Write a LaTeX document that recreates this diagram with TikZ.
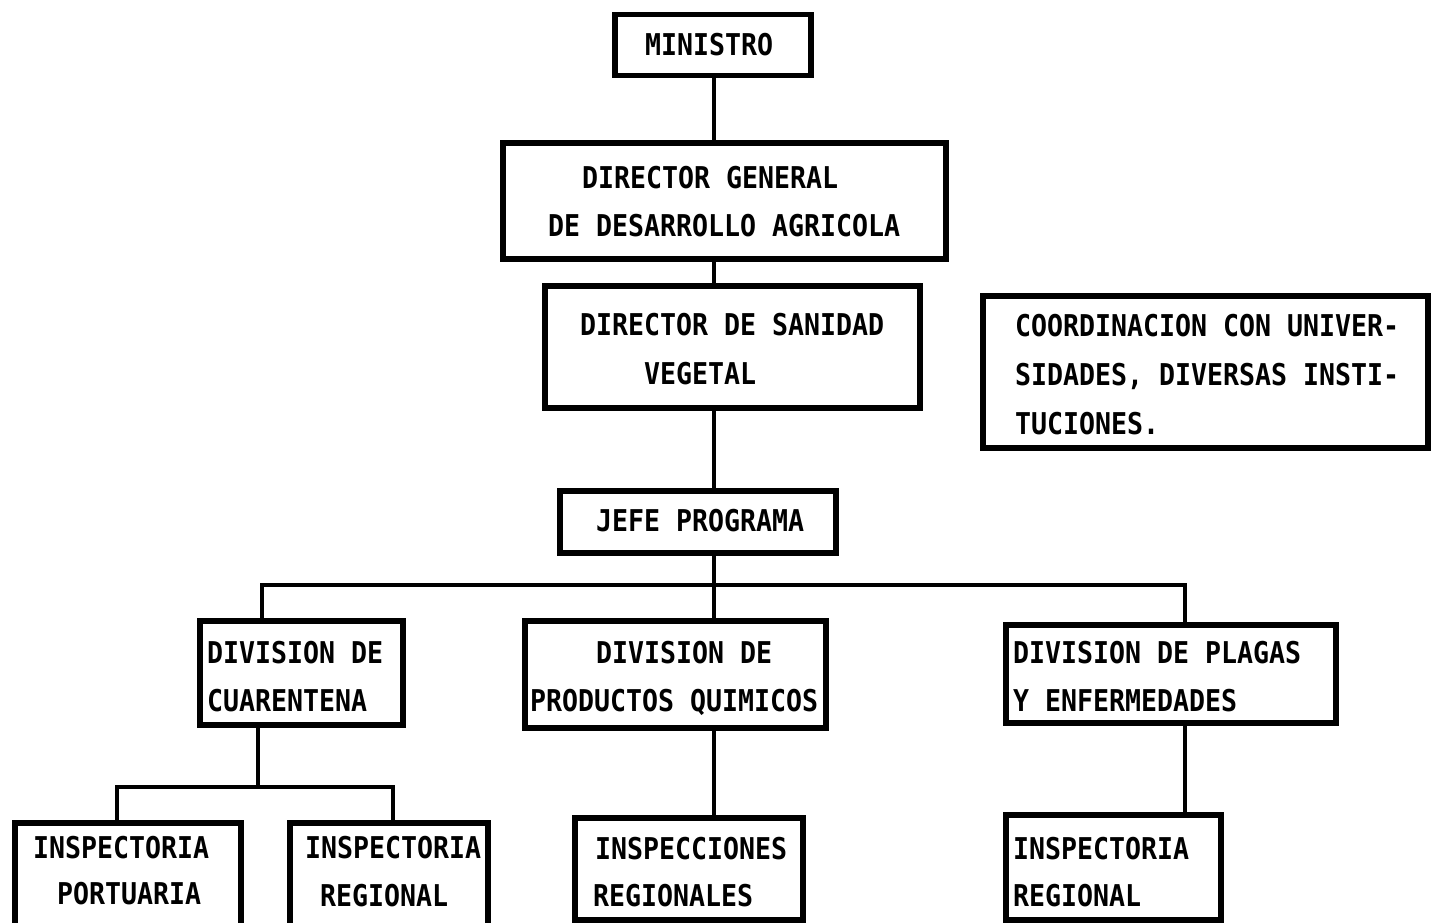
\documentclass[tikz,border=0pt]{standalone}
\usepackage{fontspec}
\newfontfamily\tw[FakeStretch=0.886]{DejaVu Sans Mono Bold}
\begin{document}
\begin{tikzpicture}[x=1pt,y=-1pt,
  box/.style={draw, line width=5.5pt, inner sep=0pt, anchor=north west},
  conn/.style={draw, line width=4.5pt},
  txt/.style={anchor=base west, inner sep=0pt, font=\tw\fontsize{30}{30}\selectfont}]
\useasboundingbox (0,0) rectangle (1437,923);
\clip (0,0) rectangle (1437,923);

% boxes
\node[box, minimum width=196pt, minimum height=61pt]  (min)   at (612,12)  {};
\node[box, minimum width=443pt, minimum height=116pt] (dg)    at (500,140) {};
\node[box, minimum width=375pt, minimum height=122pt] (dsv)   at (542,283) {};
\node[box, minimum width=445pt, minimum height=152pt] (coord) at (980,293) {};
\node[box, minimum width=276pt, minimum height=62pt]  (jefe)  at (557,488) {};
\node[box, minimum width=203pt, minimum height=104pt] (cuar)  at (197,618) {};
\node[box, minimum width=301pt, minimum height=107pt] (quim)  at (522,618) {};
\node[box, minimum width=330pt, minimum height=98pt]  (plag)  at (1003,622) {};
\node[box, minimum width=226pt, minimum height=115pt] (port)  at (12,820)  {};
\node[box, minimum width=198pt, minimum height=115pt] (regA)  at (287,820) {};
\node[box, minimum width=228pt, minimum height=102pt] (insp)  at (572,815) {};
\node[box, minimum width=215pt, minimum height=105pt] (regB)  at (1003,812) {};

% texts
\node[txt] (tmin)  at (645,56)  {MINISTRO};
\node[txt] (tdg1)  at (582,188) {DIRECTOR GENERAL};
\node[txt] (tdg2)  at (548,236) {DE DESARROLLO AGRICOLA};
\node[txt] (tdsv1) at (580,335) {DIRECTOR DE SANIDAD};
\node[txt] (tdsv2) at (644,384) {VEGETAL};
\node[txt] (tco1)  at (1015,336) {COORDINACION CON UNIVER-};
\node[txt] (tco2)  at (1015,385) {SIDADES, DIVERSAS INSTI-};
\node[txt] (tco3)  at (1015,434) {TUCIONES.};
\node[txt] (tjefe) at (596,531) {JEFE PROGRAMA};
\node[txt] (tcu1)  at (207,663) {DIVISION DE};
\node[txt] (tcu2)  at (207,711) {CUARENTENA};
\node[txt] (tqu1)  at (596,663) {DIVISION DE};
\node[txt] (tqu2)  at (530,711) {PRODUCTOS QUIMICOS};
\node[txt] (tpl1)  at (1013,663) {DIVISION DE PLAGAS};
\node[txt] (tpl2)  at (1013,711) {Y ENFERMEDADES};
\node[txt] (tpo1)  at (33,858)  {INSPECTORIA};
\node[txt] (tpo2)  at (57,904)  {PORTUARIA};
\node[txt] (tra1)  at (305,858) {INSPECTORIA};
\node[txt] (tra2)  at (320,906) {REGIONAL};
\node[txt] (tin1)  at (595,859) {INSPECCIONES};
\node[txt] (tin2)  at (593,906) {REGIONALES};
\node[txt] (trb1)  at (1013,859) {INSPECTORIA};
\node[txt] (trb2)  at (1013,906) {REGIONAL};

% connector skeleton
\coordinate (spine) at (714,0);
\coordinate (busL)  at (262,585);
\coordinate (busM)  at (714,585);
\coordinate (busR)  at (1185,585);
\coordinate (cuarX) at (258,0);
\coordinate (subL)  at (117,787);
\coordinate (subR)  at (393,787);

% main vertical line
\draw[conn] (min.south -| spine) -- (dg.north -| spine);
\draw[conn] (dg.south -| spine) -- (dsv.north -| spine);
\draw[conn] (dsv.south -| spine) -- (jefe.north -| spine);
\draw[conn] (jefe.south -| spine) -- (busM);

% division bus
\draw[conn] (busL |- cuar.north) -- (busL) -- (busR) -- (busR |- plag.north);
\draw[conn] (busM) -- (quim.north -| spine);

% lower branches
\draw[conn] (cuar.south -| cuarX) -- (subL -| cuarX);
\draw[conn] (subL |- port.north) -- (subL) -- (subR) -- (subR |- regA.north);
\draw[conn] (quim.south -| spine) -- (insp.north -| spine);
\draw[conn] (plag.south -| busR) -- (regB.north -| busR);
\end{tikzpicture}
\end{document}
